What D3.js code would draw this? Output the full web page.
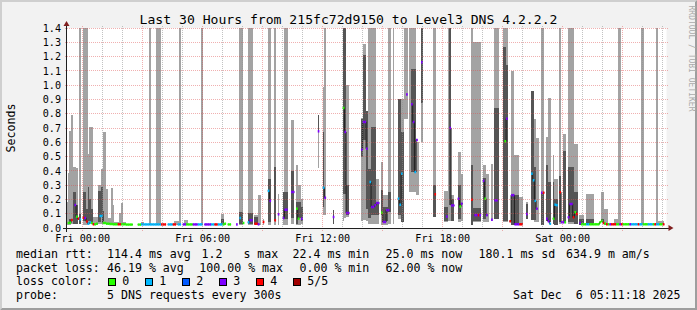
<!DOCTYPE html>
<html>
<head>
<meta charset="utf-8">
<script src="https://cdnjs.cloudflare.com/ajax/libs/d3/7.8.5/d3.min.js"></script>
<style>
	html, body { margin: 0; padding: 0; background: #f2f2f2; }
	svg { display: block; font-family: "DejaVu Sans Mono", monospace; }
	text { white-space: pre; fill: #000; }
	.grid line { shape-rendering: crispEdges; }
</style>
</head>
<body>
<svg id="chart" width="697" height="310"></svg>
<script>

	// ---- data (times are minutes from Fri 00:00, rtt in seconds) ----

	var title = 'Last 30 Hours from 215fc72d9150 to Level3 DNS 4.2.2.2';

	var yTicks = [ 0, 0.1, 0.2, 0.3, 0.4, 0.5, 0.6, 0.7, 0.8, 0.9, 1.0, 1.1, 1.2, 1.3, 1.4 ];

	var xTickMinutes = [ 0, 360, 720, 1080, 1440 ];
	var xTickLabels = [ 'Fri 00:00', 'Fri 06:00', 'Fri 12:00', 'Fri 18:00', 'Sat 00:00' ];

	var lossColors = [ '#26ff00', '#00b8ff', '#0059ff', '#7e00ff', '#ff0000', '#a10000' ];
	var lossLabels = [ '0', '1', '2', '3', '4', '5/5' ];

	// outer smoke: [ from, to, min rtt, max rtt ]
	var smokeOuter = [
		[ -50, -45, 0.02, 0.18 ], [ -45, -40, 0.02, 0.385 ], [ -40, -35, 0.02, 0.68 ], [ -35, -30, 0.03, 0.79 ],
		[ -30, -20, 0.03, 0.43 ], [ -20, -15, 0.03, 0.42 ], [ -10, -5, 0.03, 1.5 ], [ 0, 15, 0.02, 1.5 ],
		[ 15, 20, 0.03, 0.515 ], [ 20, 30, 0.03, 0.707 ], [ 30, 45, 0.02, 0.08 ], [ 45, 55, 0.03, 0.3 ],
		[ 55, 60, 0.03, 0.415 ], [ 60, 70, 0.03, 0.672 ], [ 70, 75, 0.03, 0.275 ], [ 75, 85, 0.03, 0.07 ],
		[ 85, 90, 0.03, 0.28 ], [ 90, 95, 0.03, 0.16 ], [ 95, 110, 0.02, 0.04 ], [ 110, 115, 0.02, 0.105 ],
		[ 115, 120, 0.02, 0.177 ], [ 120, 130, 0.02, 0.04 ],
		[ 175, 185, 0.02, 0.042 ], [ 200, 205, 0.02, 1.5 ], [ 220, 235, 0.02, 1.5 ], [ 275, 290, 0.02, 0.05 ],
		[ 290, 295, 0.02, 1.5 ], [ 305, 315, 0.02, 0.056 ], [ 355, 360, 0.02, 1.5 ], [ 415, 425, 0.02, 0.1 ],
		[ 470, 480, 0.02, 1.5 ], [ 495, 510, 0.02, 1.5 ], [ 515, 525, 0.02, 0.09 ], [ 525, 535, 0.02, 0.23 ],
		[ 540, 545, 0.02, 0.065 ], [ 555, 565, 0.02, 1.5 ], [ 575, 580, 0.02, 1.5 ], [ 585, 590, 0.02, 0.24 ],
		[ 600, 605, 0.02, 0.25 ], [ 605, 615, 0.02, 1.5 ], [ 625, 635, 0.03, 0.758 ], [ 640, 645, 0.02, 0.44 ],
		[ 645, 655, 0.02, 0.3 ], [ 655, 660, 0.03, 0.2 ], [ 705, 710, 0.42, 0.79 ], [ 720, 725, 0.093, 0.99 ],
		[ 725, 730, 0.093, 1.5 ], [ 750, 755, 0.03, 0.128 ], [ 780, 785, 0.05, 1.34 ], [ 785, 790, 0.07, 1.5 ],
		[ 790, 800, 0.077, 1.0 ],
		[ 835, 840, 0.05, 0.77 ], [ 840, 850, 0.054, 1.29 ], [ 850, 855, 0.05, 0.82 ], [ 855, 880, 0.03, 1.5 ],
		[ 880, 890, 0.03, 0.345 ], [ 895, 900, 0.023, 0.46 ], [ 900, 915, 0.023, 0.23 ], [ 915, 925, 0.03, 1.5 ],
		[ 930, 935, 0.03, 1.5 ], [ 945, 955, 0.065, 0.9 ], [ 955, 965, 0.04, 0.9 ], [ 965, 975, 0.765, 1.5 ],
		[ 980, 1000, 0.25, 1.5 ], [ 1000, 1010, 0.23, 0.6 ], [ 1015, 1020, 0.6, 1.5 ], [ 1050, 1060, 0.077, 1.5 ],
		[ 1085, 1095, 0.04, 0.26 ], [ 1095, 1105, 0.05, 1.5 ], [ 1105, 1115, 0.05, 0.23 ], [ 1125, 1135, 0.04, 0.53 ],
		[ 1135, 1140, 0.047, 0.38 ], [ 1165, 1170, 0.023, 1.5 ], [ 1170, 1195, 0.042, 1.3 ], [ 1200, 1210, 0.042, 0.44 ],
		[ 1210, 1220, 0.042, 0.38 ], [ 1225, 1230, 0.047, 0.45 ], [ 1235, 1250, 0.065, 1.5 ],
		[ 1260, 1275, 0.04, 1.5 ], [ 1285, 1295, 0.023, 1.1 ], [ 1295, 1310, 0.023, 0.51 ], [ 1310, 1320, 0.023, 0.217 ],
		[ 1330, 1335, 0.065, 0.183 ], [ 1345, 1355, 0.054, 0.96 ], [ 1355, 1360, 0.04, 0.765 ], [ 1360, 1370, 0.04, 0.63 ],
		[ 1375, 1385, 0.02, 1.5 ], [ 1390, 1395, 0.047, 0.64 ], [ 1395, 1405, 0.04, 0.91 ], [ 1410, 1415, 0.03, 0.51 ],
		[ 1415, 1425, 0.023, 0.345 ], [ 1430, 1435, 0.03, 1.5 ], [ 1440, 1450, 0.04, 0.66 ], [ 1455, 1475, 0.03, 1.5 ],
		[ 1475, 1485, 0.03, 0.59 ], [ 1490, 1505, 0.023, 0.089 ], [ 1510, 1535, 0.023, 0.24 ], [ 1555, 1565, 0.04, 0.25 ],
		[ 1565, 1575, 0.023, 0.135 ], [ 1595, 1605, 0.023, 0.065 ], [ 1605, 1615, 0.02, 1.5 ], [ 1675, 1685, 0.02, 1.5 ],
		[ 1720, 1725, 0.02, 1.5 ], [ 1725, 1745, 0.023, 0.05 ]
	];

	// inner smoke: [ from, to, 2nd ping, 4th ping ]
	var smokeInner = [
		[ -40, -35, 0.025, 0.06 ], [ -30, -20, 0.03, 0.25 ], [ -20, -15, 0.03, 0.16 ], [ -10, -5, 0.03, 0.1 ],
		[ 0, 10, 0.047, 0.25 ], [ 10, 15, 0.04, 0.135 ], [ 15, 20, 0.05, 0.29 ], [ 20, 25, 0.05, 0.2 ],
		[ 25, 30, 0.04, 0.135 ], [ 45, 55, 0.04, 0.257 ], [ 55, 60, 0.077, 0.287 ], [ 60, 65, 0.05, 0.12 ],
		[ 415, 425, 0.023, 0.065 ], [ 470, 480, 0.03, 0.11 ], [ 495, 510, 0.03, 0.107 ], [ 515, 525, 0.03, 0.08 ],
		[ 555, 565, 0.04, 0.345 ], [ 575, 580, 0.047, 0.427 ], [ 600, 615, 0.065, 0.25 ], [ 625, 635, 0.07, 0.4 ],
		[ 640, 645, 0.03, 0.18 ], [ 645, 655, 0.07, 0.18 ], [ 655, 660, 0.05, 0.15 ], [ 705, 710, 0.67, 0.79 ],
		[ 720, 725, 0.147, 0.67 ], [ 750, 755, 0.03, 0.128 ], [ 780, 790, 0.24, 1.5 ], [ 790, 800, 0.09, 0.3 ],
		[ 835, 840, 0.5, 0.765 ], [ 840, 850, 0.614, 1.213 ], [ 850, 855, 0.135, 0.82 ], [ 855, 865, 0.07, 0.41 ],
		[ 865, 880, 0.09, 0.707 ], [ 880, 890, 0.09, 0.18 ], [ 895, 900, 0.09, 0.265 ], [ 900, 915, 0.05, 0.15 ],
		[ 915, 925, 0.11, 0.25 ], [ 945, 955, 0.09, 0.9 ], [ 955, 965, 0.04, 0.67 ], [ 985, 1000, 0.39, 1.115 ],
		[ 1015, 1020, 0.875, 1.5 ], [ 1050, 1060, 0.077, 0.3 ], [ 1085, 1095, 0.05, 0.15 ], [ 1100, 1105, 0.16, 1.5 ],
		[ 1105, 1115, 0.05, 0.2 ], [ 1125, 1135, 0.065, 0.3 ], [ 1165, 1170, 0.023, 0.44 ], [ 1170, 1195, 0.047, 0.14 ],
		[ 1200, 1210, 0.065, 0.35 ], [ 1235, 1250, 0.065, 0.84 ],
		[ 1260, 1270, 0.05, 1.27 ], [ 1270, 1275, 0.05, 1.14 ], [ 1285, 1310, 0.023, 0.23 ], [ 1330, 1335, 0.065, 0.17 ],
		[ 1345, 1355, 0.054, 0.96 ], [ 1355, 1360, 0.054, 0.43 ], [ 1375, 1385, 0.02, 0.247 ], [ 1390, 1395, 0.047, 0.44 ],
		[ 1395, 1405, 0.04, 0.32 ], [ 1410, 1415, 0.03, 0.32 ], [ 1415, 1425, 0.023, 0.2 ], [ 1430, 1435, 0.04, 0.367 ],
		[ 1440, 1450, 0.04, 0.54 ], [ 1455, 1475, 0.04, 0.427 ], [ 1475, 1485, 0.03, 0.25 ], [ 1490, 1505, 0.023, 0.06 ],
		[ 1510, 1535, 0.023, 0.065 ], [ 1555, 1565, 0.04, 0.065 ]
	];

	// median rtt per 5 minute step: [ step start, median, lost pings ]
	var medians = [
		[ -45, 0.035, 0 ], [ -40, 0.037, 0 ], [ -35, 0.056, 4 ], [ -25, 0.161, 3 ], [ -20, 0.079, 0 ], [ -15, 0.065, 4 ],
		[ -10, 0.06, 1 ], [ 0, 0.072, 4 ], [ 5, 0.07, 3 ], [ 10, 0.045, 4 ], [ 15, 0.03, 1 ], [ 20, 0.04, 1 ],
		[ 25, 0.035, 0 ], [ 30, 0.026, 4 ], [ 35, 0.026, 0 ], [ 40, 0.03, 0 ], [ 50, 0.084, 1 ], [ 55, 0.084, 1 ],
		[ 60, 0.035, 0 ], [ 65, 0.035, 0 ], [ 70, 0.03, 0 ], [ 75, 0.03, 0 ], [ 80, 0.028, 0 ], [ 85, 0.028, 0 ],
		[ 90, 0.026, 0 ], [ 95, 0.026, 0 ], [ 100, 0.026, 0 ], [ 105, 0.026, 4 ], [ 110, 0.026, 4 ], [ 115, 0.026, 0 ],
		[ 120, 0.026, 0 ], [ 125, 0.026, 0 ], [ 130, 0.024, 0 ], [ 135, 0.024, 0 ], [ 140, 0.024, 0 ], [ 145, 0.024, 0 ],
		[ 165, 0.024, 0 ], [ 170, 0.024, 0 ], [ 175, 0.025, 1 ], [ 180, 0.025, 1 ], [ 185, 0.025, 1 ], [ 190, 0.025, 1 ],
		[ 195, 0.025, 1 ], [ 200, 0.025, 1 ], [ 205, 0.025, 1 ], [ 210, 0.025, 1 ], [ 215, 0.025, 1 ], [ 220, 0.025, 1 ],
		[ 225, 0.025, 1 ], [ 230, 0.025, 1 ], [ 235, 0.025, 4 ], [ 240, 0.025, 4 ], [ 245, 0.025, 4 ], [ 255, 0.025, 1 ],
		[ 260, 0.025, 1 ], [ 265, 0.025, 1 ], [ 270, 0.025, 4 ], [ 275, 0.025, 4 ], [ 285, 0.025, 1 ], [ 290, 0.025, 1 ],
		[ 300, 0.025, 3 ], [ 305, 0.025, 3 ], [ 310, 0.025, 0 ], [ 315, 0.025, 0 ], [ 320, 0.025, 0 ], [ 325, 0.025, 0 ],
		[ 330, 0.025, 3 ], [ 335, 0.025, 3 ], [ 340, 0.025, 3 ], [ 345, 0.025, 1 ], [ 350, 0.025, 1 ], [ 355, 0.025, 1 ],
		[ 365, 0.025, 3 ], [ 370, 0.025, 3 ], [ 375, 0.025, 3 ], [ 380, 0.025, 3 ], [ 385, 0.025, 1 ], [ 390, 0.025, 1 ],
		[ 395, 0.025, 4 ], [ 400, 0.025, 4 ], [ 405, 0.025, 1 ], [ 410, 0.025, 1 ], [ 415, 0.025, 1 ], [ 420, 0.025, 0 ],
		[ 425, 0.03, 0 ], [ 435, 0.025, 0 ], [ 440, 0.025, 0 ], [ 460, 0.025, 3 ], [ 470, 0.07, 1 ], [ 480, 0.035, 0 ],
		[ 495, 0.04, 1 ], [ 500, 0.054, 3 ], [ 505, 0.054, 3 ], [ 515, 0.03, 4 ], [ 520, 0.03, 4 ], [ 525, 0.026, 3 ],
		[ 540, 0.042, 4 ], [ 555, 0.26, 1 ], [ 560, 0.19, 3 ], [ 575, 0.054, 4 ], [ 585, 0.096, 3 ], [ 600, 0.07, 3 ],
		[ 605, 0.128, 3 ], [ 610, 0.128, 3 ], [ 625, 0.252, 3 ], [ 630, 0.252, 3 ], [ 640, 0.135, 0 ], [ 645, 0.065, 0 ],
		[ 655, 0.065, 3 ], [ 705, 0.677, 3 ], [ 720, 0.282, 1 ], [ 725, 0.212, 3 ], [ 750, 0.077, 3 ], [ 780, 0.84, 0 ],
		[ 785, 0.672, 3 ], [ 790, 0.105, 3 ], [ 795, 0.105, 3 ],
		[ 835, 0.548, 3 ], [ 840, 0.742, 3 ], [ 845, 0.742, 3 ], [ 850, 0.555, 3 ], [ 860, 0.322, 1 ], [ 865, 0.147, 3 ],
		[ 870, 0.147, 3 ], [ 875, 0.16, 3 ], [ 880, 0.175, 3 ], [ 885, 0.175, 3 ], [ 895, 0.107, 0 ], [ 900, 0.042, 3 ],
		[ 905, 0.042, 3 ], [ 910, 0.125, 3 ], [ 915, 0.125, 3 ], [ 945, 0.205, 1 ], [ 950, 0.163, 1 ], [ 955, 0.38, 1 ],
		[ 970, 0.935, 3 ], [ 985, 0.866, 3 ], [ 990, 0.742, 3 ], [ 995, 0.392, 1 ], [ 1000, 0.616, 3 ], [ 1015, 1.16, 3 ],
		[ 1055, 0.236, 4 ], [ 1090, 0.08, 3 ], [ 1100, 0.7, 3 ], [ 1105, 0.158, 3 ], [ 1110, 0.158, 3 ], [ 1125, 0.205, 3 ],
		[ 1130, 0.15, 0 ], [ 1135, 0.17, 3 ], [ 1165, 0.198, 4 ], [ 1175, 0.09, 3 ], [ 1180, 0.09, 3 ], [ 1185, 0.09, 4 ],
		[ 1190, 0.09, 3 ], [ 1200, 0.33, 3 ], [ 1205, 0.205, 0 ], [ 1210, 0.09, 3 ], [ 1225, 0.058, 3 ], [ 1235, 0.194, 3 ],
		[ 1240, 0.194, 3 ],
		[ 1265, 0.607, 0 ], [ 1270, 0.765, 3 ], [ 1280, 0.047, 4 ], [ 1285, 0.23, 3 ], [ 1290, 0.23, 3 ], [ 1295, 0.026, 3 ],
		[ 1300, 0.026, 3 ], [ 1305, 0.026, 3 ], [ 1310, 0.026, 4 ], [ 1315, 0.026, 4 ], [ 1330, 0.098, 3 ], [ 1345, 0.38, 1 ],
		[ 1350, 0.334, 1 ], [ 1355, 0.19, 1 ], [ 1360, 0.135, 3 ], [ 1375, 0.247, 3 ], [ 1380, 0.247, 4 ], [ 1390, 0.065, 3 ],
		[ 1395, 0.047, 3 ], [ 1400, 0.03, 1 ], [ 1410, 0.065, 0 ], [ 1415, 0.163, 1 ], [ 1420, 0.16, 1 ], [ 1430, 0.25, 4 ],
		[ 1435, 0.04, 3 ], [ 1440, 0.04, 3 ], [ 1445, 0.04, 0 ], [ 1455, 0.075, 3 ], [ 1460, 0.168, 3 ], [ 1465, 0.168, 3 ],
		[ 1470, 0.075, 4 ], [ 1475, 0.11, 0 ], [ 1480, 0.098, 4 ], [ 1490, 0.035, 3 ], [ 1495, 0.026, 0 ], [ 1500, 0.026, 0 ],
		[ 1505, 0.026, 0 ], [ 1510, 0.026, 1 ], [ 1515, 0.026, 1 ], [ 1520, 0.026, 0 ], [ 1525, 0.026, 0 ], [ 1530, 0.026, 0 ],
		[ 1535, 0.026, 0 ], [ 1540, 0.026, 0 ], [ 1545, 0.026, 0 ], [ 1550, 0.04, 0 ], [ 1555, 0.05, 0 ], [ 1560, 0.035, 4 ],
		[ 1565, 0.03, 0 ], [ 1570, 0.026, 4 ], [ 1575, 0.026, 0 ], [ 1580, 0.026, 3 ], [ 1585, 0.026, 4 ], [ 1590, 0.026, 4 ],
		[ 1595, 0.026, 4 ], [ 1600, 0.026, 0 ], [ 1605, 0.026, 0 ], [ 1610, 0.026, 3 ], [ 1615, 0.026, 4 ], [ 1620, 0.026, 0 ],
		[ 1625, 0.026, 0 ], [ 1630, 0.026, 0 ], [ 1635, 0.026, 0 ], [ 1640, 0.026, 3 ], [ 1645, 0.026, 1 ], [ 1650, 0.026, 1 ],
		[ 1655, 0.026, 1 ], [ 1660, 0.026, 1 ], [ 1665, 0.026, 4 ], [ 1670, 0.026, 1 ], [ 1675, 0.026, 1 ], [ 1680, 0.026, 0 ],
		[ 1685, 0.026, 0 ], [ 1690, 0.026, 0 ], [ 1695, 0.026, 1 ], [ 1700, 0.026, 1 ], [ 1705, 0.026, 1 ], [ 1710, 0.026, 0 ],
		[ 1715, 0.026, 4 ], [ 1720, 0.026, 1 ], [ 1725, 0.026, 1 ], [ 1730, 0.026, 0 ], [ 1735, 0.026, 0 ], [ 1740, 0.026, 4 ]
	];

	var rttLegend = [ 'median rtt:', '114.4 ms avg', '1.2   s max', '22.4 ms min', '25.0 ms now', '180.1 ms sd', '634.9 m am/s' ];
	var lossLegend = [ 'packet loss:', '46.19 % avg', '100.00 % max', '0.00 % min', '62.00 % now' ];
	var probeLegend = [ 'probe:', '5 DNS requests every 300s' ];
	var stamp = 'Sat Dec  6 05:11:18 2025';


	// ---- layout ----

	var W = 697, H = 310,
		X0 = 66.5, X1 = 666.5, Y1 = 28, Y0 = 228;

	var fri = new Date( 2025, 11, 5, 0, 0, 0 ),
		tStart = new Date( 2025, 11, 4, 23, 11, 18 ),
		tEnd = new Date( 2025, 11, 6, 5, 11, 18 );

	/**
	 * minutes from Fri 00:00 -> Date
	 */
	function at( m ) {
		return new Date( fri.getTime() + m * 60000 );
	}

	var x = d3.scaleTime().domain( [ tStart, tEnd ] ).range( [ X0, X1 ] );
	var y = d3.scaleLinear().domain( [ 0, 1.4 ] ).range( [ Y0, Y1 ] );

	var svg = d3.select( '#chart' );

	// background + 3d frame
	svg.append( 'rect' ).attr( 'width', W ).attr( 'height', H ).attr( 'fill', '#f2f2f2' );
	svg.append( 'path' )
		.attr( 'd', 'M0,' + H + 'L2,' + ( H - 2 ) + 'L2,2L' + ( W - 2 ) + ',2L' + W + ',0L0,0Z' )
		.attr( 'fill', '#cfcfcf' );
	svg.append( 'path' )
		.attr( 'd', 'M2,' + ( H - 2 ) + 'L' + ( W - 2 ) + ',' + ( H - 2 ) + 'L' + ( W - 2 ) + ',2L' + W + ',0L' + W + ',' + H + 'L0,' + H + 'Z' )
		.attr( 'fill', '#9e9e9e' );

	// canvas
	svg.append( 'rect' )
		.attr( 'x', X0 ).attr( 'y', Y1 )
		.attr( 'width', X1 - X0 ).attr( 'height', Y0 - Y1 )
		.attr( 'fill', '#ffffff' );

	svg.append( 'clipPath' ).attr( 'id', 'plotclip' )
		.append( 'rect' )
		.attr( 'x', X0 ).attr( 'y', Y1 )
		.attr( 'width', X1 - X0 ).attr( 'height', Y0 - Y1 );

	var plot = svg.append( 'g' ).attr( 'clip-path', 'url(#plotclip)' );

	function smoke( data, colour ) {
		plot.append( 'g' )
			.selectAll( 'rect' )
			.data( data )
			.enter()
			.append( 'rect' )
				.attr( 'x', function( d ) { return x( at( d[ 0 ] ) ); } )
				.attr( 'width', function( d ) { return x( at( d[ 1 ] ) ) - x( at( d[ 0 ] ) ); } )
				.attr( 'y', function( d ) { return y( d[ 3 ] ); } )
				.attr( 'height', function( d ) { return y( d[ 2 ] ) - y( d[ 3 ] ); } )
				.attr( 'fill', colour )
				.attr( 'shape-rendering', 'crispEdges' );
	}

	smoke( smokeOuter, '#a3a3a3' );
	smoke( smokeInner, '#555555' );

	// thin median line, only across neighbouring steps
	var runs = [], run = [];
	medians.forEach( function( d, i ) {
		if ( i > 0 && d[ 0 ] - medians[ i - 1 ][ 0 ] !== 5 ) {
			runs.push( run );
			run = [];
		}
		run.push( [ d[ 0 ], d[ 1 ] ], [ d[ 0 ] + 5, d[ 1 ] ] );
	} );
	runs.push( run );

	var medLine = d3.line()
		.x( function( p ) { return x( at( p[ 0 ] ) ); } )
		.y( function( p ) { return y( p[ 1 ] ); } );

	plot.append( 'g' )
		.selectAll( 'path' )
		.data( runs.filter( function( r ) { return r.length > 2; } ) )
		.enter()
		.append( 'path' )
			.attr( 'd', medLine )
			.attr( 'fill', 'none' )
			.attr( 'stroke', '#202020' )
			.attr( 'stroke-width', 1 );

	plot.append( 'g' )
		.selectAll( 'rect' )
		.data( medians )
		.enter()
		.append( 'rect' )
			.attr( 'x', function( d ) { return x( at( d[ 0 ] ) ); } )
			.attr( 'width', function( d ) { return x( at( d[ 0 ] + 5 ) ) - x( at( d[ 0 ] ) ); } )
			.attr( 'y', function( d ) { return y( d[ 1 ] ) - 1.25; } )
			.attr( 'height', 2.5 )
			.attr( 'fill', function( d ) { return lossColors[ d[ 2 ] ]; } );

	// grid, drawn over the graph like rrdtool does
	var grid = svg.append( 'g' ).attr( 'class', 'grid' );

	grid.selectAll( 'line.vminor' )
		.data( x.ticks( d3.timeHour.every( 1 ) ).filter( function( t ) { return t.getHours() % 3 !== 0; } ) )
		.enter()
		.append( 'line' )
			.attr( 'x1', function( t ) { return x( t ); } )
			.attr( 'x2', function( t ) { return x( t ); } )
			.attr( 'y1', Y1 - 2 ).attr( 'y2', Y0 + 2 )
			.attr( 'stroke', 'rgba(143,143,143,0.55)' )
			.attr( 'stroke-dasharray', '1,1' );

	grid.selectAll( 'line.vmajor' )
		.data( x.ticks( d3.timeHour.every( 3 ) ) )
		.enter()
		.append( 'line' )
			.attr( 'x1', function( t ) { return x( t ); } )
			.attr( 'x2', function( t ) { return x( t ); } )
			.attr( 'y1', Y1 - 2 ).attr( 'y2', Y0 + 3 )
			.attr( 'stroke', 'rgba(222,79,79,0.45)' )
			.attr( 'stroke-dasharray', '1,1' );

	grid.selectAll( 'line.hmajor' )
		.data( yTicks.slice( 1 ) )
		.enter()
		.append( 'line' )
			.attr( 'x1', X0 - 2 ).attr( 'x2', X1 + 2 )
			.attr( 'y1', function( v ) { return y( v ); } )
			.attr( 'y2', function( v ) { return y( v ); } )
			.attr( 'stroke', 'rgba(222,79,79,0.45)' )
			.attr( 'stroke-dasharray', '1,1' );

	// axes + arrows
	grid.append( 'line' )
		.attr( 'x1', X0 - 4 ).attr( 'x2', X1 + 4 )
		.attr( 'y1', Y0 ).attr( 'y2', Y0 )
		.attr( 'stroke', '#1f1f1f' );
	grid.append( 'line' )
		.attr( 'x1', X0 ).attr( 'x2', X0 )
		.attr( 'y1', Y0 + 4 ).attr( 'y2', Y1 - 4 )
		.attr( 'stroke', '#1f1f1f' );

	svg.append( 'path' )
		.attr( 'd', 'M' + ( X1 + 2 ) + ',' + ( Y0 - 3 ) + 'L' + ( X1 + 2 ) + ',' + ( Y0 + 3 ) + 'L' + ( X1 + 7 ) + ',' + Y0 + 'Z' )
		.attr( 'fill', '#801f1f' );
	svg.append( 'path' )
		.attr( 'd', 'M' + ( X0 - 3 ) + ',' + ( Y1 - 2 ) + 'L' + ( X0 + 3 ) + ',' + ( Y1 - 2 ) + 'L' + X0 + ',' + ( Y1 - 7 ) + 'Z' )
		.attr( 'fill', '#801f1f' );

	// tick labels
	svg.append( 'g' )
		.selectAll( 'text' )
		.data( yTicks )
		.enter()
		.append( 'text' )
			.attr( 'x', X0 - 5.5 )
			.attr( 'y', function( v ) { return y( v ) + 3.7; } )
			.attr( 'text-anchor', 'end' )
			.attr( 'font-size', '10.15px' )
			.text( function( v ) { return v.toFixed( 1 ); } );

	svg.append( 'g' )
		.selectAll( 'text' )
		.data( xTickMinutes )
		.enter()
		.append( 'text' )
			.attr( 'x', function( m ) { return x( at( m ) ); } )
			.attr( 'y', 241.5 )
			.attr( 'text-anchor', 'middle' )
			.attr( 'font-size', '10.15px' )
			.text( function( m, i ) { return xTickLabels[ i ]; } );

	// title, unit, watermark
	svg.append( 'text' )
		.attr( 'x', W / 2 ).attr( 'y', 23.5 )
		.attr( 'text-anchor', 'middle' )
		.attr( 'font-size', '13.1px' )
		.text( title );

	svg.append( 'text' )
		.attr( 'transform', 'translate(15,' + ( ( Y1 + Y0 ) / 2 ) + ') rotate(-90)' )
		.attr( 'text-anchor', 'middle' )
		.attr( 'font-size', '11.6px' )
		.text( 'Seconds' );

	svg.append( 'text' )
		.attr( 'transform', 'translate(688.5,5.5) rotate(90)' )
		.attr( 'font-size', '8px' )
		.style( 'fill', '#ababab' )
		.text( 'RRDTOOL / TOBI OETIKER' );

	// legend
	var legend = svg.append( 'g' ).attr( 'font-size', '11.6px' );

	function legendRow( items, xs, baseline ) {
		legend.append( 'g' )
			.selectAll( 'text' )
			.data( items )
			.enter()
			.append( 'text' )
				.attr( 'x', function( d, i ) { return xs[ i ]; } )
				.attr( 'y', baseline )
				.text( function( d ) { return d; } );
	}

	legendRow( rttLegend, [ 16, 107, 201.5, 292.5, 385.5, 478.5, 566 ], 258 );
	legendRow( lossLegend, [ 16, 107, 199.3, 299.5, 385.5 ], 271.5 );
	legendRow( [ 'loss color:' ], [ 16 ], 285 );
	legendRow( probeLegend, [ 16, 107 ], 298.5 );

	var boxX = [ 108.5, 145.5, 182.5, 219.5, 256.5, 293.5 ];

	legend.append( 'g' )
		.selectAll( 'rect' )
		.data( lossColors )
		.enter()
		.append( 'rect' )
			.attr( 'x', function( c, i ) { return boxX[ i ]; } )
			.attr( 'y', 278.5 )
			.attr( 'width', 7 ).attr( 'height', 7 )
			.attr( 'fill', function( c ) { return c; } )
			.attr( 'stroke', '#000' )
			.attr( 'stroke-width', 1 );

	legend.append( 'g' )
		.selectAll( 'text' )
		.data( lossLabels )
		.enter()
		.append( 'text' )
			.attr( 'x', function( l, i ) { return boxX[ i ] + 13.8; } )
			.attr( 'y', 285 )
			.text( function( l ) { return l; } );

	legend.append( 'text' )
		.attr( 'x', 680.5 ).attr( 'y', 298.5 )
		.attr( 'text-anchor', 'end' )
		.text( stamp );

</script>
</body>
</html>
